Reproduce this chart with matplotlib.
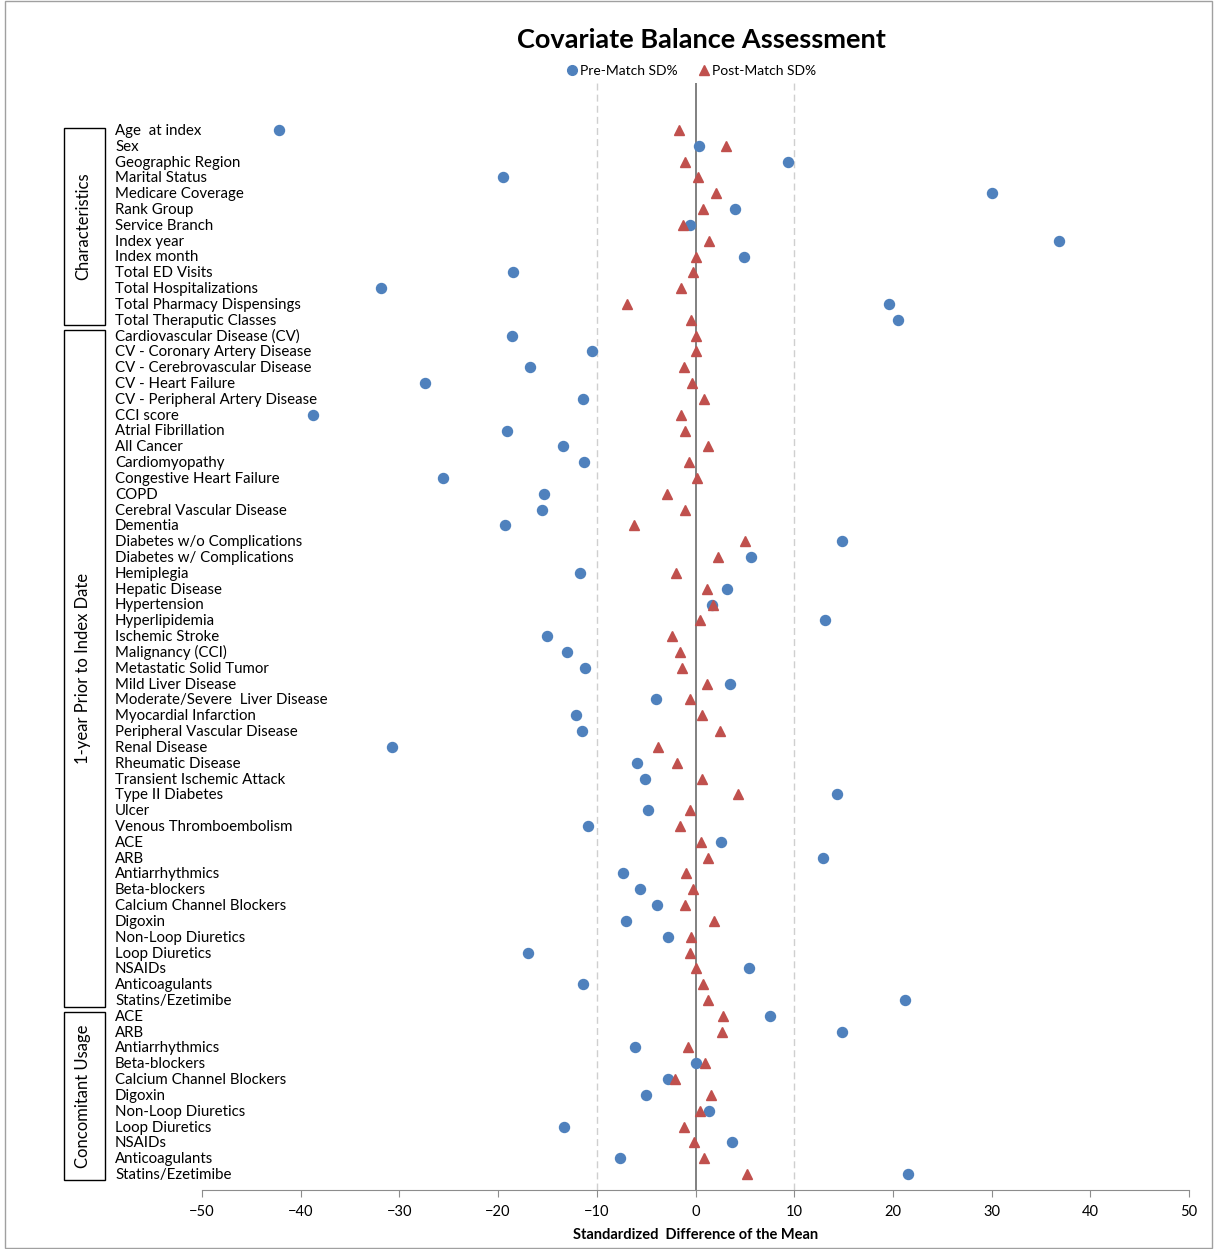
import matplotlib.pyplot as plt
from matplotlib.patches import Rectangle
from matplotlib.lines import Line2D
from matplotlib.transforms import blended_transform_factory

# covariate names, top to bottom
characteristics = ["Age  at index", "Sex", "Geographic Region", "Marital Status",
                   "Medicare Coverage", "Rank Group", "Service Branch", "Index year",
                   "Index month", "Total ED Visits", "Total Hospitalizations",
                   "Total Pharmacy Dispensings", "Total Theraputic Classes"]
prior_year = ["Cardiovascular Disease (CV)", "CV - Coronary Artery Disease",
              "CV - Cerebrovascular Disease", "CV - Heart Failure",
              "CV - Peripheral Artery Disease", "CCI score", "Atrial Fibrillation",
              "All Cancer", "Cardiomyopathy", "Congestive Heart Failure", "COPD",
              "Cerebral Vascular Disease", "Dementia", "Diabetes w/o Complications",
              "Diabetes w/ Complications", "Hemiplegia", "Hepatic Disease",
              "Hypertension", "Hyperlipidemia", "Ischemic Stroke", "Malignancy (CCI)",
              "Metastatic Solid Tumor", "Mild Liver Disease",
              "Moderate/Severe  Liver Disease", "Myocardial Infarction",
              "Peripheral Vascular Disease", "Renal Disease", "Rheumatic Disease",
              "Transient Ischemic Attack", "Type II Diabetes", "Ulcer",
              "Venous Thromboembolism", "ACE", "ARB", "Antiarrhythmics",
              "Beta-blockers", "Calcium Channel Blockers", "Digoxin",
              "Non-Loop Diuretics", "Loop Diuretics", "NSAIDs", "Anticoagulants",
              "Statins/Ezetimibe"]
concomitant = ["ACE", "ARB", "Antiarrhythmics", "Beta-blockers",
               "Calcium Channel Blockers", "Digoxin", "Non-Loop Diuretics",
               "Loop Diuretics", "NSAIDs", "Anticoagulants", "Statins/Ezetimibe"]

pre_match = [-42.2, 0.4, 9.4, -19.5, 30.0, 4.0, -0.6, 36.8, 4.9, -18.5, -31.9, 19.6, 20.5,
             -18.6, -10.5, -16.8, -27.4, -11.4, -38.8, -19.1, -13.4, -11.3, -25.6, -15.3,
             -15.6, -19.3, 14.8, 5.6, -11.7, 3.2, 1.7, 13.1, -15.0, -13.0, -11.2, 3.5,
             -4.0, -12.1, -11.5, -30.7, -5.9, -5.1, 14.3, -4.8, -10.9, 2.6, 12.9, -7.3,
             -5.6, -3.9, -7.0, -2.8, -17.0, 5.4, -11.4, 21.2,
             7.5, 14.8, -6.1, 0.0, -2.8, -5.0, 1.4, -13.3, 3.7, -7.6, 21.5]
post_match = [-1.7, 3.1, -1.1, 0.3, 2.1, 0.8, -1.3, 1.4, 0.05, -0.3, -1.5, -6.9, -0.5,
              0.1, 0.1, -1.2, -0.4, 0.9, -1.5, -1.1, 1.3, -0.7, 0.2, -2.9,
              -1.1, -6.2, 5.0, 2.3, -2.0, 1.2, 1.8, 0.5, -2.4, -1.6, -1.4, 1.2,
              -0.6, 0.7, 2.5, -3.8, -1.9, 0.7, 4.3, -0.6, -1.6, 0.6, 1.3, -1.0,
              -0.3, -1.1, 1.9, -0.5, -0.6, 0.05, 0.8, 1.3,
              2.8, 2.7, -0.8, 1.0, -2.1, 1.6, 0.5, -1.2, -0.2, 0.9, 5.2]

labels = characteristics + prior_year + concomitant
groups = [("Characteristics", len(characteristics)),
          ("1-year Prior to Index Date", len(prior_year)),
          ("Concomitant Usage", len(concomitant))]

plt.rcParams['font.family'] = ['Lato', 'DejaVu Sans']

W, H = 1215, 1249
fig = plt.figure(figsize=(W / 100, H / 100), dpi=100)
ax = fig.add_axes([202 / W, 1 - 1190 / H, (1189 - 202) / W, (1190 - 83) / H])

n = len(labels)
ypos = list(range(n))
ax.set_ylim(n - 1 + 1.01, -2.97)
ax.set_xlim(-50, 50)

ax.axvline(0, color='#808080', lw=1.4, zorder=1)
for xv in (-10, 10):
    ax.axvline(xv, color='#CFCFCF', lw=1.0, ls=(0, (5, 3)), zorder=0)

ax.plot(pre_match, ypos, 'o', color='#4F81BD', ms=7.2, ls='none', zorder=3)
ax.plot(post_match, ypos, '^', color='#C0504D', ms=7.6, ls='none', zorder=4)

for s in ('left', 'right', 'top'):
    ax.spines[s].set_visible(False)
ax.spines['bottom'].set_color('#8C8C8C')
ax.set_yticks([])
ax.set_xticks(range(-50, 51, 10))
ax.tick_params(axis='x', colors='#8C8C8C', labelcolor='black', labelsize=10.5,
               length=5, pad=6)
ax.set_xlabel("Standardized  Difference of the Mean", fontsize=10.5,
              fontweight='bold', labelpad=6)

# covariate labels: x in figure pixels, y on the data rows
lab_tr = blended_transform_factory(fig.transFigure, ax.transData)
for i, lab in enumerate(labels):
    ax.text(115 / W, i + 0.06, lab, transform=lab_tr, fontsize=10.8,
            va='center', ha='left', clip_on=False)

# group boxes
box_px = [(128, 325), (330, 1007), (1012, 1180)]
for (name, _), (y0, y1) in zip(groups, box_px):
    fig.add_artist(Rectangle((64 / W, 1 - y1 / H), 41 / W, (y1 - y0) / H,
                             transform=fig.transFigure, fill=False,
                             edgecolor='black', lw=1.0))
    fig.text(83 / W, 1 - (y0 + y1) / 2 / H, name, rotation=90, ha='center',
             va='center', fontsize=12)

fig.text(701 / W, 1 - 40 / H, "Covariate Balance Assessment", ha='center',
         va='center', fontsize=19.5, fontweight='bold')

handles = [Line2D([], [], marker='o', color='#4F81BD', ls='none', ms=7),
           Line2D([], [], marker='^', color='#C0504D', ls='none', ms=7)]
fig.legend(handles, ["Pre-Match SD%", "Post-Match SD%"], loc='center',
           bbox_to_anchor=(690 / W, 1 - 71 / H), ncol=2, frameon=False,
           fontsize=10, handletextpad=0.0, columnspacing=1.3, handlelength=1.2)

fig.add_artist(Rectangle((5 / W, 1 / H), 1207 / W, 1 - 2 / H,
                         transform=fig.transFigure, fill=False,
                         edgecolor='#A0A0A0', lw=1.0))

fig.savefig("out.png", dpi=100)
